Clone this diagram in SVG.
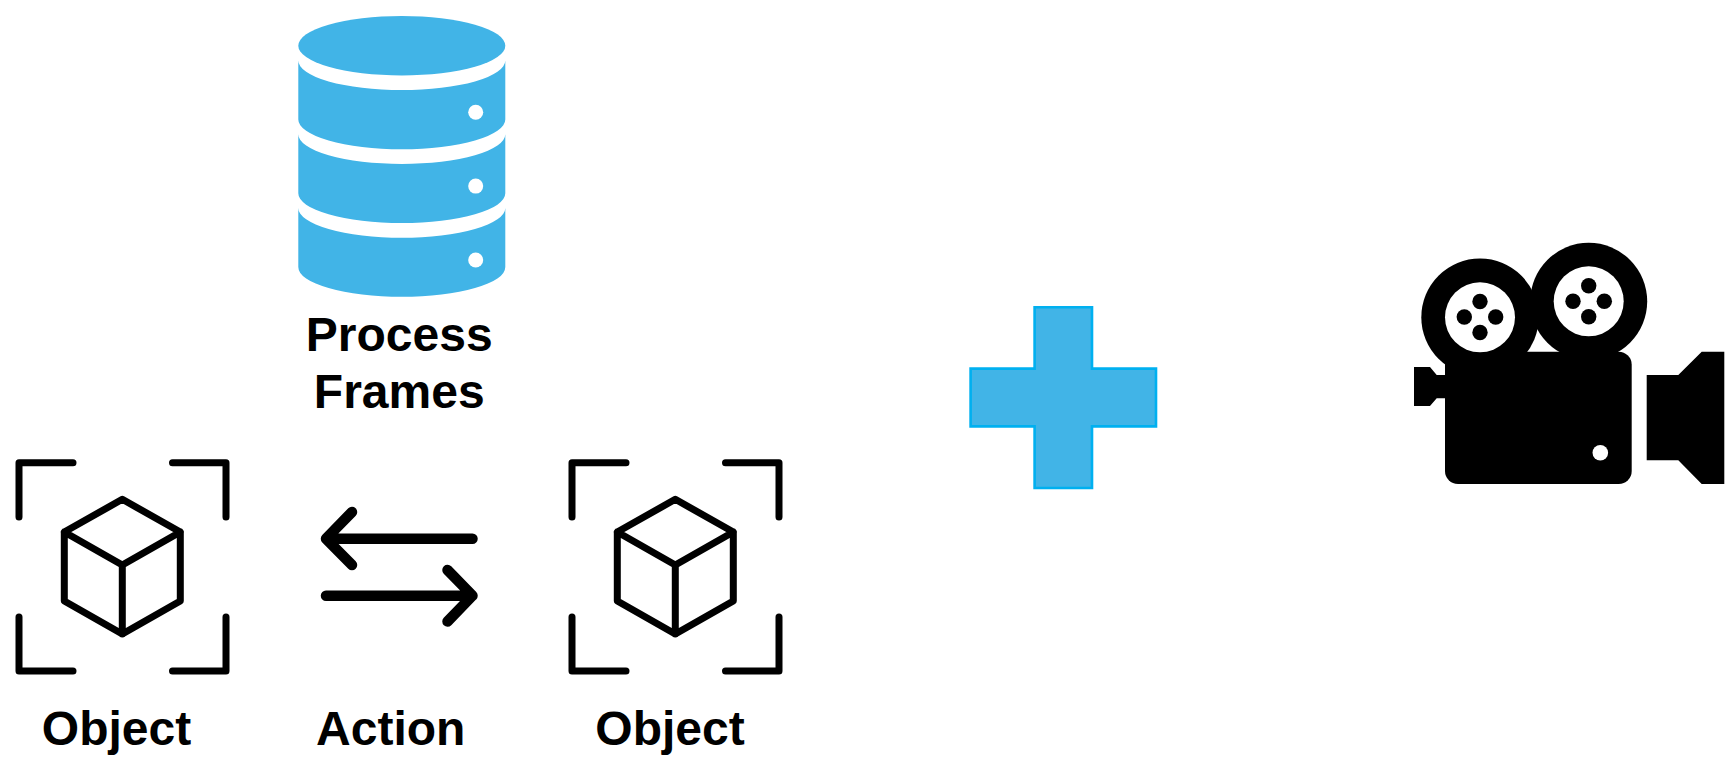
<svg xmlns="http://www.w3.org/2000/svg" width="1730" height="764" viewBox="0 0 1730 764">
<style>
.lbl{font-family:"Liberation Sans",Arial,sans-serif;font-weight:700;font-size:48px;fill:#000;text-anchor:middle}
.blue{fill:#41B4E7}
.hole{fill:#fff}
.line{fill:none;stroke:#000;stroke-linecap:round;stroke-linejoin:round}
</style>
<defs>
<path id="seg" class="blue" d="M298.3,60.4A103.5,29.7 0 0 0 505.3,60.4V119.5A103.5,29.7 0 0 1 298.3,119.5Z"/>
<g id="objIcon" class="line" stroke-width="7">
<path d="M19,517V462.7H73M172.5,462.7H226V517M19,617V671H73M172.5,671H226V617"/>
<path d="M122.3,499.3L180.3,532V601L122.3,634L64.3,601V532ZM64.3,532L122.3,565L180.3,532M122.3,565V634"/>
</g>
</defs>
<rect width="1730" height="764" fill="#fff"/>
<g id="process-frames">
<ellipse class="blue" cx="401.8" cy="45.7" rx="103.5" ry="29.7"/>
<use href="#seg"/>
<use href="#seg" y="73.8"/>
<use href="#seg" y="147.6"/>
<circle class="hole" cx="475.7" cy="112.3" r="7.5"/>
<circle class="hole" cx="475.7" cy="186.1" r="7.5"/>
<circle class="hole" cx="475.7" cy="260" r="7.5"/>
<text class="lbl" x="399.2" y="351">Process</text>
<text class="lbl" x="399.2" y="408">Frames</text>
</g>
<g id="object-left">
<use href="#objIcon"/>
<text class="lbl" x="116.5" y="745">Object</text>
</g>
<g id="object-right">
<use href="#objIcon" x="553"/>
<text class="lbl" x="670" y="745">Object</text>
</g>
<g id="connectors" class="line" stroke-width="10.5">
<path d="M472.5,538.7H326M352,512L326,538.7L352,565"/>
<path d="M326,595.7H472.5M447.5,570L472.5,595.7L447.5,621.5"/>
</g>
<g id="action-label">
<text class="lbl" x="390.7" y="745">Action</text>
</g>
<g id="plus">
<path d="M1034.6,307.3H1092V368.6H1156V426.4H1092V488H1034.6V426.4H970.6V368.6H1034.6Z" fill="#41B4E7" stroke="#00B0F0" stroke-width="2.6"/>
</g>
<g id="camera">
<circle cx="1480" cy="317.3" r="58.7"/>
<circle cx="1588.7" cy="301.3" r="58.5"/>
<rect x="1445" y="351.7" width="186.7" height="132.3" rx="13"/>
<circle class="hole" cx="1480" cy="317.3" r="35"/>
<circle class="hole" cx="1588.7" cy="301.3" r="35"/>
<circle cx="1480" cy="301.5" r="7.7"/><circle cx="1464.3" cy="317" r="7.7"/><circle cx="1495.7" cy="317" r="7.7"/><circle cx="1480" cy="332.5" r="7.7"/>
<circle cx="1588.7" cy="285.7" r="7.7"/><circle cx="1573" cy="301.3" r="7.7"/><circle cx="1604.3" cy="301.3" r="7.7"/><circle cx="1588.7" cy="316.7" r="7.7"/>
<path d="M1414,367H1430L1436.7,375H1446V398.3H1436.7L1430,406H1414Z"/>
<path d="M1646.7,375H1678.3L1701.7,351.7H1724.3V484H1701.7L1678.3,460.3H1646.7Z"/>
<circle class="hole" cx="1600.3" cy="452.7" r="7.8"/>
</g>
</svg>
